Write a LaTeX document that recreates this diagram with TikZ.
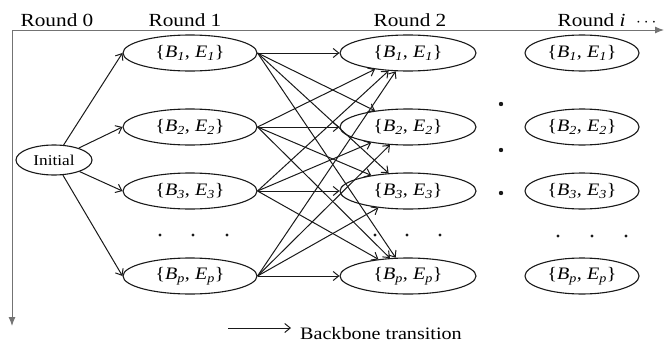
\documentclass[tikz,border=0pt]{standalone}
\usepackage{fontspec}
\setmainfont{Liberation Serif}[FakeStretch=1.15]
\usetikzlibrary{shapes.geometric,arrows.meta}
\newcommand{\pairBE}[1]{\{\textit{B}\textsubscript{\textit{#1}}, \textit{E}\textsubscript{\textit{#1}}\}}
\begin{document}
\begin{tikzpicture}[x=1pt,y=-1pt,
  state/.style={ellipse,draw=black!90,line width=1.1pt,minimum height=36pt,inner sep=0pt,
    font=\fontsize{17.5}{20}\selectfont},
  conn/.style={draw=black!90,line width=1pt,-{Straight Barb[length=5.5pt,width=9pt]}},
  axis/.style={draw=black!55,line width=1pt},
  roundlbl/.style={anchor=base,font=\fontsize{18.5}{22}\selectfont},
  dot/.style={fill=black!90}]
\useasboundingbox (0,0) rectangle (664,343);

% axes
\coordinate (o) at (12,30);
\coordinate (xe) at (664,30);
\coordinate (ye) at (12,326);
\draw[axis,{Latex[length=9pt,width=7pt]}-{Latex[length=9pt,width=7pt]}] (xe) -- (o) -- (ye);

% round headings
\node[roundlbl] (r0) at (57,26) {Round 0};
\node[roundlbl] (r1) at (185,26) {Round 1};
\node[roundlbl] (r2) at (410,26) {Round 2};
\node[roundlbl] (ri) at (607,26) {Round \textit{i} \ $\cdots$};

% initial state
\node[state,minimum width=76pt,minimum height=30pt,font=\fontsize{15}{18}\selectfont] (init) at (54,160) {Initial};

% round 1
\node[state,minimum width=134pt] (a1) at (190,53) {\pairBE{1}};
\node[state,minimum width=134pt] (a2) at (190,127) {\pairBE{2}};
\node[state,minimum width=134pt] (a3) at (190,191) {\pairBE{3}};
\node[state,minimum width=134pt] (ap) at (190,276) {\pairBE{p}};

% round 2
\node[state,minimum width=136pt] (b1) at (408,53) {\pairBE{1}};
\node[state,minimum width=136pt] (b2) at (408,127) {\pairBE{2}};
\node[state,minimum width=136pt] (b3) at (408,191) {\pairBE{3}};
\node[state,minimum width=136pt] (bp) at (408,276) {\pairBE{p}};

% round i
\node[state,minimum width=114pt] (c1) at (582,53) {\pairBE{1}};
\node[state,minimum width=114pt] (c2) at (582,127) {\pairBE{2}};
\node[state,minimum width=114pt] (c3) at (582,191) {\pairBE{3}};
\node[state,minimum width=114pt] (cp) at (582,276) {\pairBE{p}};

% transitions from the initial state
\foreach \i in {1,2,3,p} \draw[conn] (init) -- (a\i.west);

% transitions round 1 -> round 2
\foreach \i in {1,2,3,p}
  \foreach \j in {1,2,3,p}
    \draw[conn] (a\i.east) -- (b\j);

% ellipsis dots
\foreach \x in {160,193,227} \fill[dot] (\x,235) circle (1.7pt);
\foreach \x in {375,407,440} \fill[dot] (\x,235) circle (1.7pt);
\foreach \x in {558,592,626} \fill[dot] (\x,236) circle (1.7pt);
\foreach \y in {104,150,193} \fill[dot] (501,\y) circle (2.2pt);

% legend
\coordinate (l0) at (228,328);
\coordinate (l1) at (291,328);
\draw[conn] (l0) -- (l1);
\node[anchor=base west,inner sep=0pt,font=\fontsize{17.5}{20}\selectfont] (leg) at (300,339) {Backbone transition};
\end{tikzpicture}
\end{document}
